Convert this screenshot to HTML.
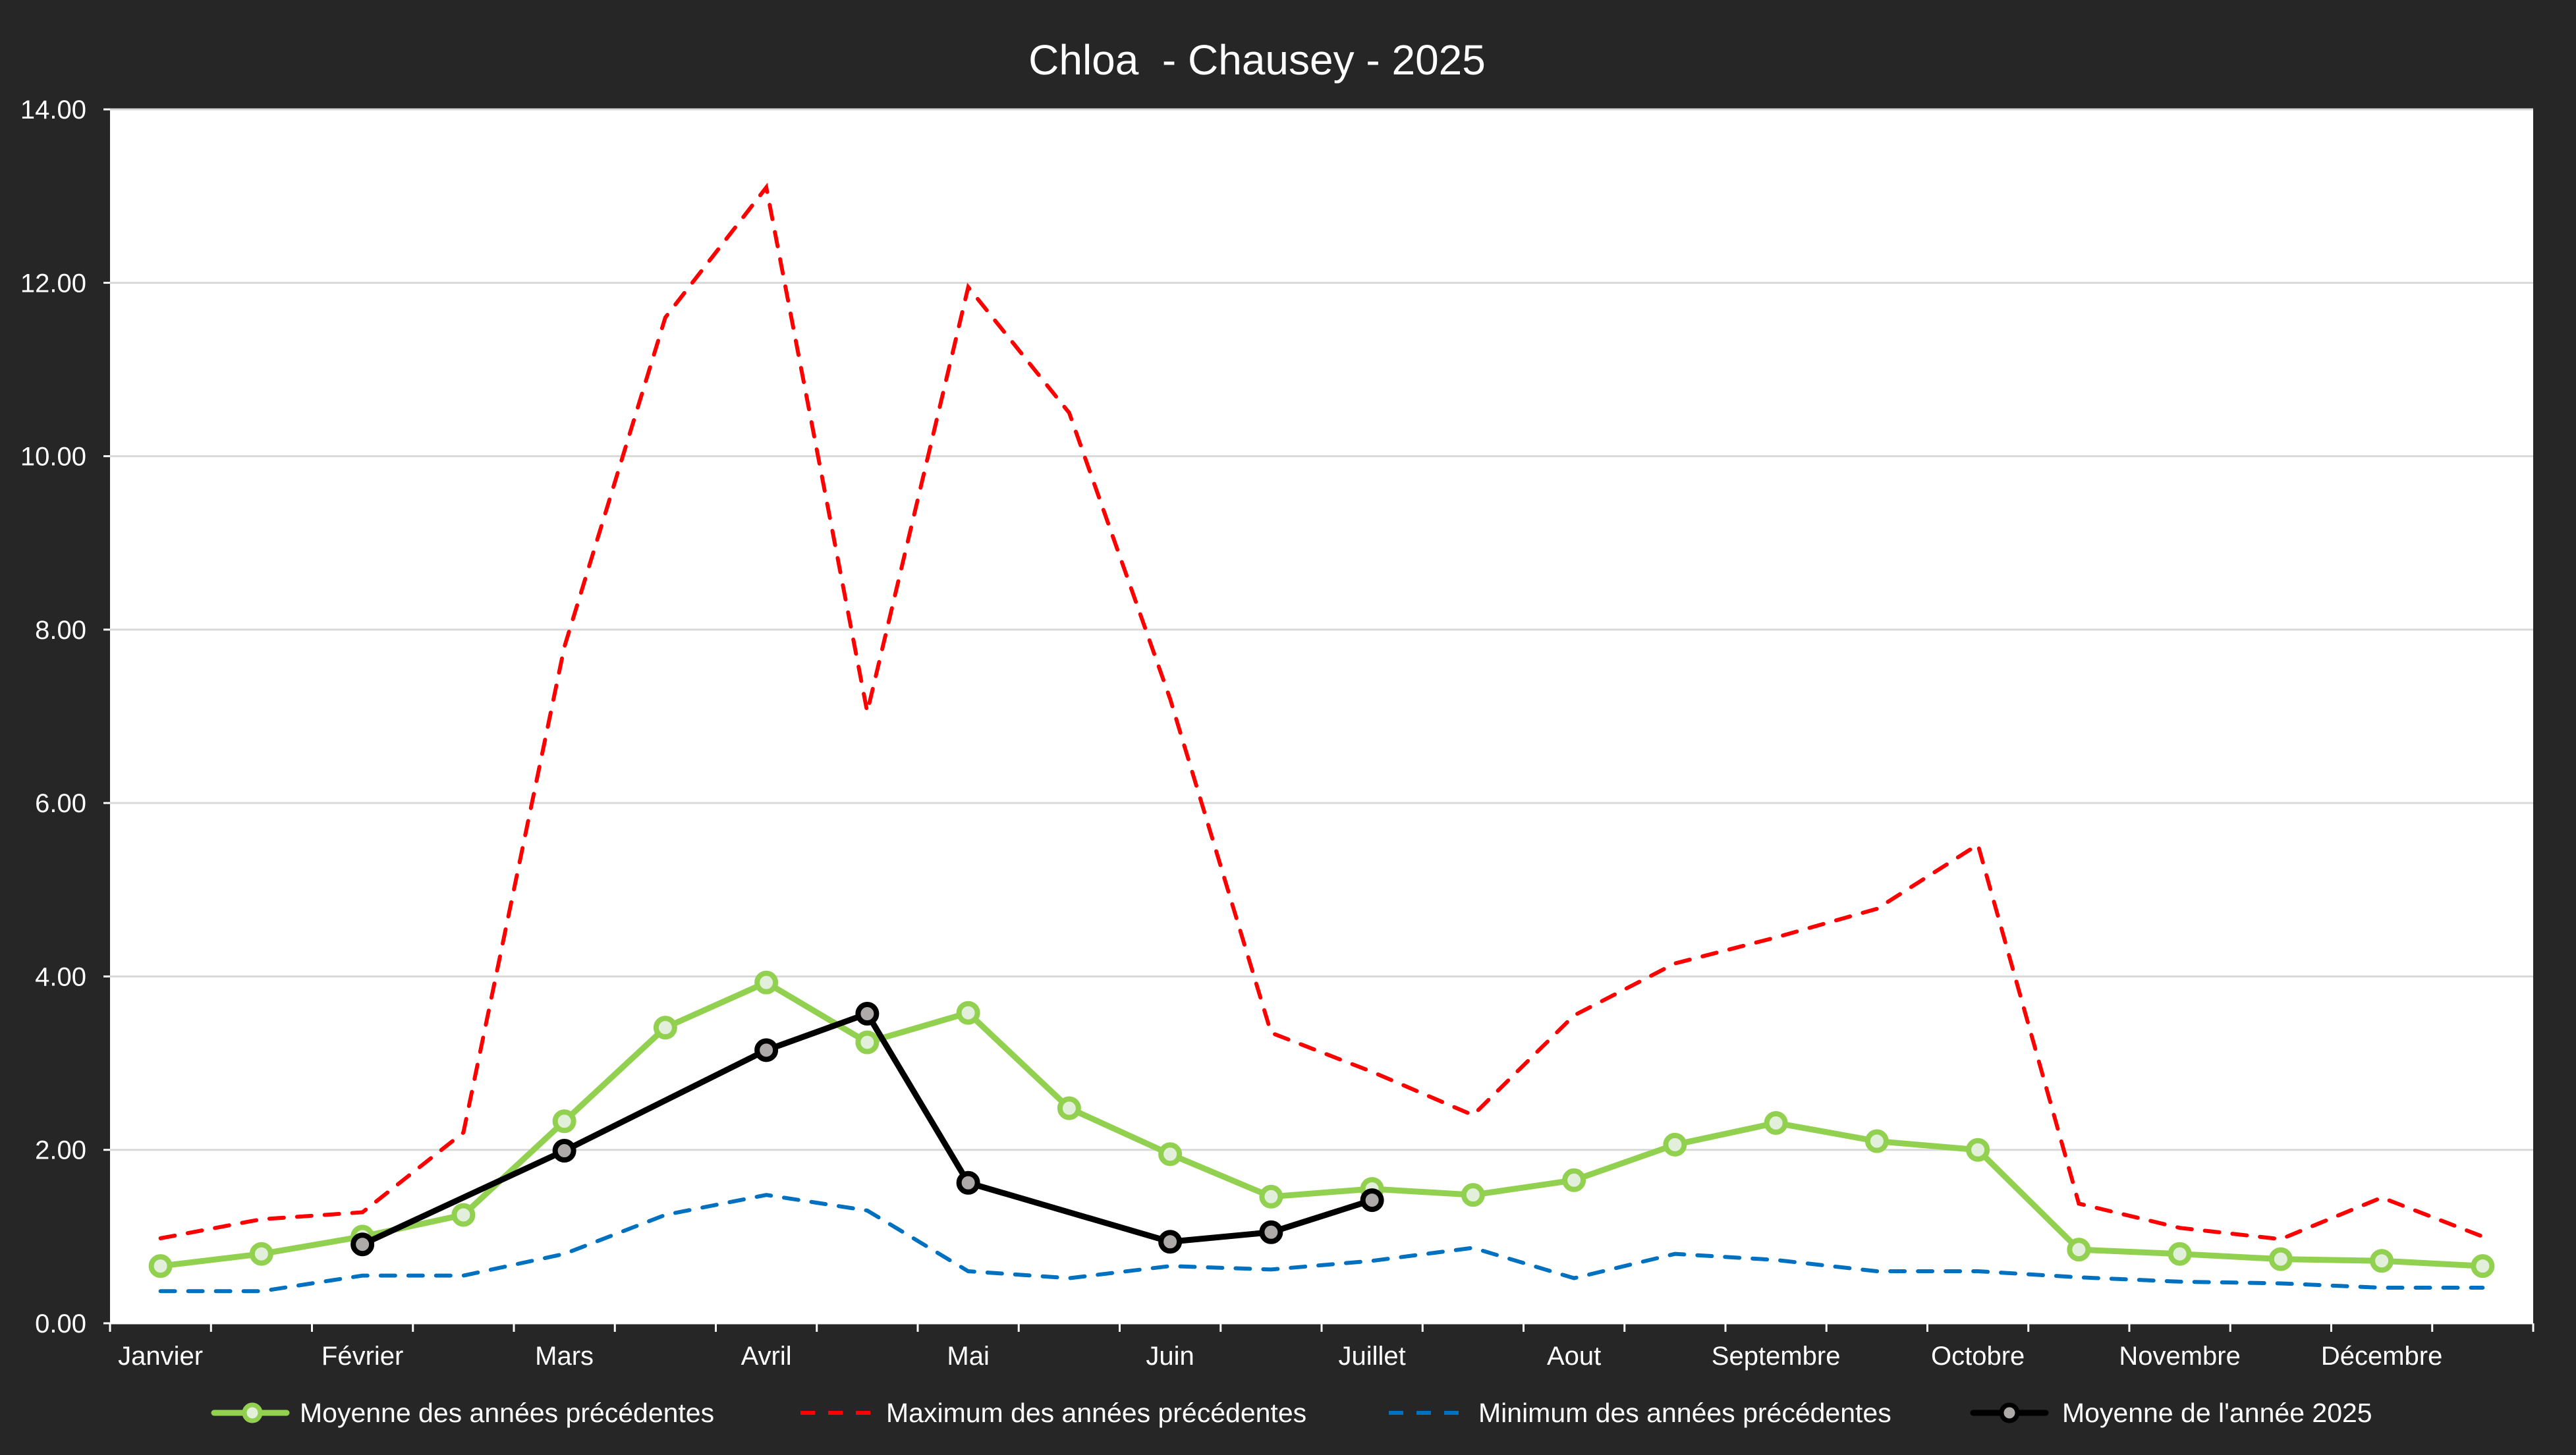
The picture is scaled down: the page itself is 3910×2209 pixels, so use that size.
<!DOCTYPE html>
<html><head><meta charset="utf-8"><style>
html,body{margin:0;padding:0;background:#262626;}
svg{display:block;font-family:"Liberation Sans",Arial,sans-serif;}
</style></head><body>
<svg id="c" width="3910" height="2209" xmlns="http://www.w3.org/2000/svg">
<rect width="3910" height="2209" fill="#262626"/>
<rect x="167" y="166" width="3678" height="1843" fill="#ffffff"/>
<g id="grid"></g>
<text x="1908" y="113" fill="#fff" font-size="64" text-anchor="middle" xml:space="preserve">Chloa  - Chausey - 2025</text>
<g id="series"></g>
<g font-size="41" fill="#fff">
<line x1="325" y1="2145" x2="435" y2="2145" stroke="#92d050" stroke-width="9" stroke-linecap="round"/>
<circle cx="383" cy="2145" r="12" fill="#e2efda" stroke="#92d050" stroke-width="7"/>
<text x="455" y="2159">Moyenne des années précédentes</text>
<line x1="1215" y1="2145" x2="1325" y2="2145" stroke="#ff0000" stroke-width="6" stroke-dasharray="22,20"/>
<text x="1345" y="2159">Maximum des années précédentes</text>
<line x1="2108" y1="2145" x2="2218" y2="2145" stroke="#0070c0" stroke-width="6" stroke-dasharray="22,20"/>
<text x="2244" y="2159">Minimum des années précédentes</text>
<line x1="2995" y1="2145" x2="3105" y2="2145" stroke="#000" stroke-width="9" stroke-linecap="round"/>
<circle cx="3050" cy="2145" r="12" fill="#aeaaaa" stroke="#000" stroke-width="7"/>
<text x="3130" y="2159">Moyenne de l'année 2025</text>
</g>
</svg>
<script>
var NS="http://www.w3.org/2000/svg";
function X(i){return 167+153.25*(i+0.5);}
function Y(v){return 2009-v*131.64;}
function el(p,t,a){var e=document.createElementNS(NS,t);for(var k in a)e.setAttribute(k,a[k]);p.appendChild(e);return e;}
var g=document.getElementById('grid');
for(var v=0;v<=14;v+=2){
 var y=Y(v);
 if(v>0)el(g,'line',{x1:167,x2:3845,y1:y,y2:y,stroke:'#d9d9d9','stroke-width':3});
 el(g,'line',{x1:157,x2:167,y1:y,y2:y,stroke:'#fff','stroke-width':3});
 var t=el(g,'text',{x:131,y:y+14,fill:'#fff','font-size':40,'text-anchor':'end'});t.textContent=v.toFixed(2);
}
el(g,'line',{x1:167,x2:3845,y1:2009,y2:2009,stroke:'#fff','stroke-width':3});
for(var i=0;i<=24;i++){var x=167+153.25*i;el(g,'line',{x1:x,x2:x,y1:2009,y2:2022,stroke:'#fff','stroke-width':3});}
var months=["Janvier","Février","Mars","Avril","Mai","Juin","Juillet","Aout","Septembre","Octobre","Novembre","Décembre"];
months.forEach(function(m,k){var t=el(g,'text',{x:X(2*k),y:2072,fill:'#fff','font-size':40,'text-anchor':'middle'});t.textContent=m;});
var s=document.getElementById('series');
var mean=[0.66,0.8,1.0,1.25,2.33,3.41,3.93,3.24,3.58,2.48,1.95,1.46,1.55,1.48,1.65,2.06,2.31,2.10,2.0,0.85,0.8,0.74,0.72,0.66];
var mx=[0.98,1.2,1.28,2.2,7.8,11.6,13.1,7.05,11.95,10.5,7.2,3.35,2.9,2.4,3.55,4.15,4.45,4.78,5.52,1.38,1.1,0.97,1.45,1.0];
var mn=[0.37,0.37,0.55,0.55,0.8,1.25,1.48,1.3,0.6,0.52,0.66,0.62,0.72,0.87,0.52,0.8,0.73,0.6,0.6,0.53,0.48,0.46,0.41,0.41];
var cur=[[2,0.91],[4,1.99],[6,3.15],[7,3.57],[8,1.62],[10,0.94],[11,1.05],[12,1.42]];
function pts(a){return a.map(function(v,i){return X(i)+','+Y(v);}).join(' ');}
el(s,'polyline',{points:pts(mx),fill:'none',stroke:'#ff0000','stroke-width':6,'stroke-dasharray':'22,20','stroke-linecap':'round'});
el(s,'polyline',{points:pts(mn),fill:'none',stroke:'#0070c0','stroke-width':6,'stroke-dasharray':'22,20','stroke-linecap':'round'});
el(s,'polyline',{points:pts(mean),fill:'none',stroke:'#92d050','stroke-width':9,'stroke-linejoin':'round'});
mean.forEach(function(v,i){el(s,'circle',{cx:X(i),cy:Y(v),r:14,fill:'#e2efda',stroke:'#92d050','stroke-width':8});});
el(s,'polyline',{points:cur.map(function(p){return X(p[0])+','+Y(p[1]);}).join(' '),fill:'none',stroke:'#000','stroke-width':9,'stroke-linejoin':'round'});
cur.forEach(function(p){el(s,'circle',{cx:X(p[0]),cy:Y(p[1]),r:14,fill:'#aeaaaa',stroke:'#000','stroke-width':8});});
</script>
</body></html>
